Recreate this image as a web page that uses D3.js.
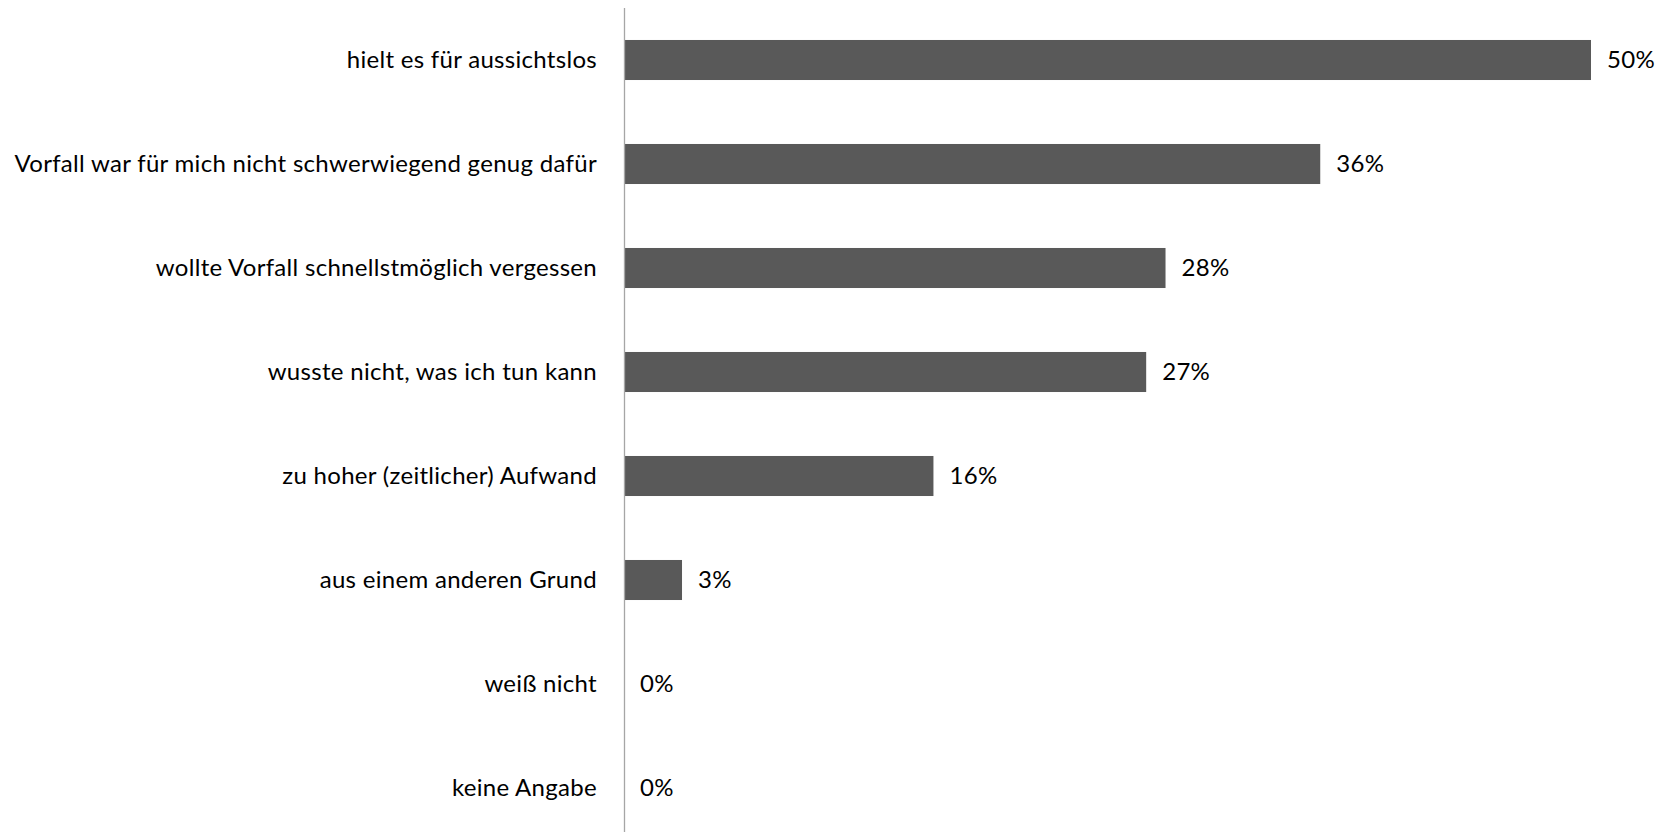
<!DOCTYPE html>
<html>
<head>
<meta charset="utf-8">
<script src="https://cdn.jsdelivr.net/npm/d3@7"></script>
<style>
  html, body { margin: 0; padding: 0; background: #fff; }
  svg { display: block; }
  text { font-family: "Lato", "Open Sans", sans-serif; fill: #000; letter-spacing: 0.3px; }
</style>
</head>
<body>
<svg id="chart" width="1663" height="832"></svg>
<script>
// Reasons given, top to bottom
const categories = [
  "hielt es für aussichtslos",
  "Vorfall war für mich nicht schwerwiegend genug dafür",
  "wollte Vorfall schnellstmöglich vergessen",
  "wusste nicht, was ich tun kann",
  "zu hoher (zeitlicher) Aufwand",
  "aus einem anderen Grund",
  "weiß nicht",
  "keine Angabe"
];
// Share of respondents, in percent
const values = [50, 36, 28, 27, 16, 3, 0, 0];

const svg = d3.select("#chart");
const margin = { left: 624, top: 8 };
const plotWidth = 967;
const bandStep = 104;
const fontSize = 24;

const x = d3.scaleLinear().domain([0, 50]).range([margin.left, margin.left + plotWidth]);
const y = d3.scaleBand()
  .domain(categories)
  .range([margin.top, margin.top + bandStep * categories.length])
  .paddingInner(0.615)
  .paddingOuter(0.3075);

// bars
svg.append("g").selectAll("rect")
  .data(categories)
  .join("rect")
  .attr("x", x(0))
  .attr("y", d => y(d))
  .attr("width", (d, i) => x(values[i]) - x(0))
  .attr("height", y.bandwidth())
  .attr("fill", "#595959");

// vertical category axis
const axis = d3.axisLeft(y).tickSize(0).tickPadding(27);
const gAxis = svg.append("g")
  .attr("transform", `translate(${x(0)},0)`)
  .call(axis);
gAxis.select(".domain")
  .attr("d", `M0.5,${margin.top}V${832 + 10}`)
  .attr("stroke", "#a6a6a6")
  .attr("stroke-width", 1.3);
gAxis.selectAll(".tick text")
  .attr("font-family", "Lato, 'Open Sans', sans-serif")
  .attr("font-size", fontSize)
  .attr("fill", "#000");

// value labels
svg.append("g").selectAll("text")
  .data(categories)
  .join("text")
  .attr("x", (d, i) => x(values[i]) + 16)
  .attr("y", d => y(d) + y.bandwidth() / 2)
  .attr("dy", "0.35em")
  .attr("font-size", fontSize)
  .text((d, i) => values[i] + "%");
</script>
</body>
</html>
